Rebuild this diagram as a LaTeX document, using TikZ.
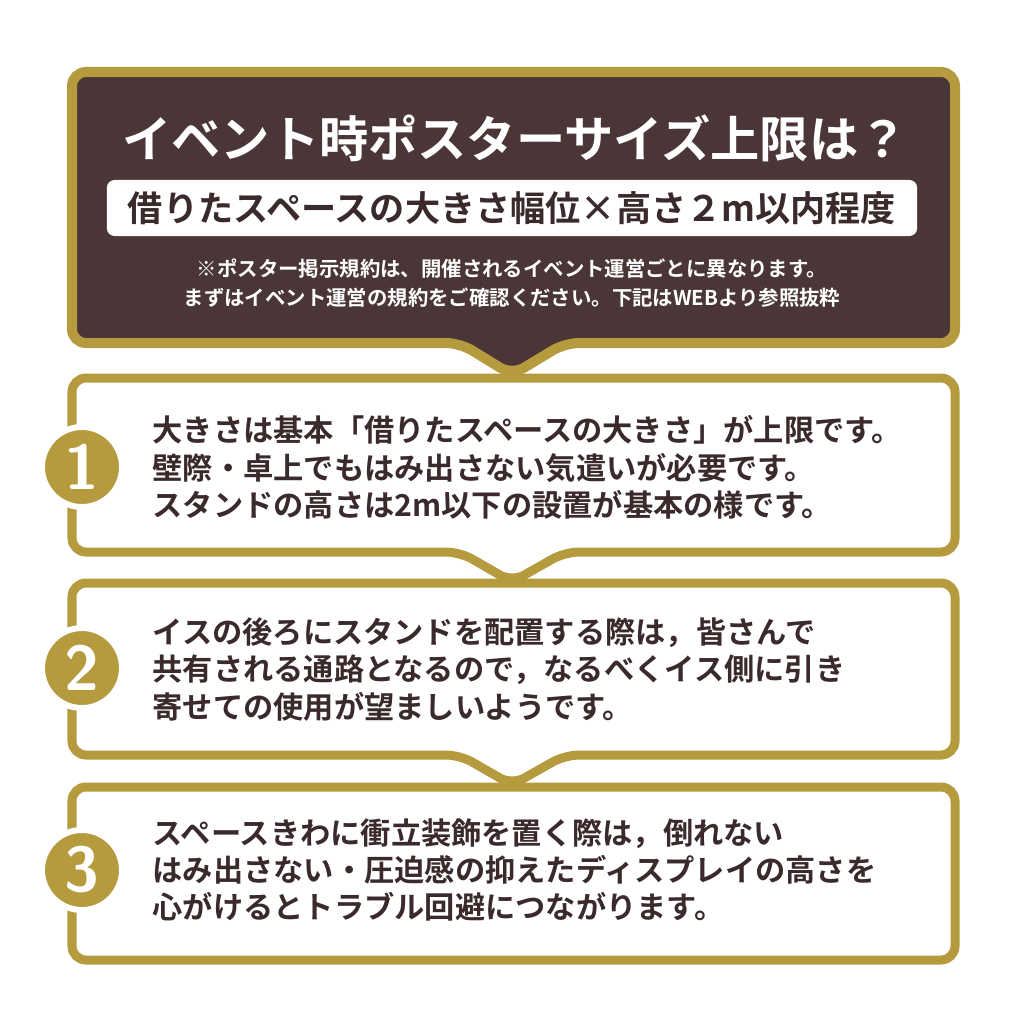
\documentclass[tikz,border=0pt]{standalone}
\usepackage{fontspec}
\setmainfont{Noto Sans CJK JP}[BoldFont={Noto Sans CJK JP Bold}]
\definecolor{gold}{HTML}{B59B3D}
\definecolor{brown}{HTML}{4A3537}
\definecolor{ink}{HTML}{3A2A2C}
\begin{document}
\begin{tikzpicture}[x=0.01cm,y=-0.01cm,
  panel/.style={draw=gold,line width=0.09cm,rounded corners=0.14cm,fill=white},
  num/.style={circle,fill=gold,draw=white,line width=0.06cm,minimum size=0.8cm,inner sep=0pt,text=white,font=\fontsize{18pt}{18pt}\bfseries\sffamily},
  body/.style={anchor=north west,align=left,text=ink,font=\fontsize{8.6pt}{10.6pt}\selectfont\bfseries,inner sep=0pt}]
\useasboundingbox (0,0) rectangle (1024,1024);
\fill[white] (0,0) rectangle (1024,1024);
% boxes (bottom first)
\draw[panel] (72,787) -- (955,787) -- (955,960) -- (72,960) -- cycle;
\draw[panel] (72,583) -- (955,583) -- (955,755) -- (565,755) -- (512,785) -- (460,755) -- (72,755) -- cycle;
\draw[panel] (72,378) -- (955,378) -- (955,552) -- (565,552) -- (512,582) -- (460,552) -- (72,552) -- cycle;
\draw[draw=gold,fill=brown,line width=0.1cm,rounded corners=0.14cm] (72,72) -- (955,72) -- (955,343) -- (565,343) -- (512,375) -- (460,343) -- (72,343) -- cycle;
% header
\node[text=white,font=\fontsize{14pt}{14pt}\selectfont\bfseries] (title) at (515,138) {イベント時ポスターサイズ上限は？};
\node[fill=white,rounded corners=0.08cm,minimum width=8.1cm,minimum height=0.56cm,inner sep=0pt,text=ink,font=\fontsize{10pt}{10pt}\selectfont\bfseries] (sub) at (512,208) {借りたスペースの大きさ幅位×高さ２m以内程度};
\node[text=white,align=center,font=\fontsize{5.8pt}{8.4pt}\selectfont\bfseries] (note) at (512,283) {※ポスター掲示規約は、開催されるイベント運営ごとに異なります。\\まずはイベント運営の規約をご確認ください。下記はWEBより参照抜粋};
% numbers
\node[num] (n1) at (82,467) {1};
\node[num] (n2) at (82,668) {2};
\node[num] (n3) at (82,870) {3};
% body
\node[body] (t1) at (152,415) {大きさは基本「借りたスペースの大きさ」が上限です。\\壁際・卓上でもはみ出さない気遣いが必要です。\\スタンドの高さは2m以下の設置が基本の様です。};
\node[body] (t2) at (152,617) {イスの後ろにスタンドを配置する際は，皆さんで\\共有される通路となるので，なるべくイス側に引き\\寄せての使用が望ましいようです。};
\node[body] (t3) at (152,818) {スペースきわに衝立装飾を置く際は，倒れない\\はみ出さない・圧迫感の抑えたディスプレイの高さを\\心がけるとトラブル回避につながります。};
\end{tikzpicture}
\end{document}
